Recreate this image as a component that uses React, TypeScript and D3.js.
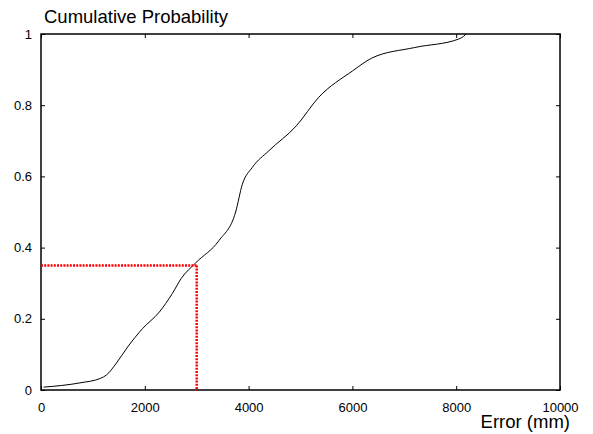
import React, { useEffect, useRef } from 'react';
import * as d3 from 'd3';

// CDF of the error
const errorMm = [50, 750, 1150, 1260, 1450, 1670, 1960, 2280, 2530, 2700, 2980, 3430, 3750, 3880, 4070, 4390, 4920, 5350, 6000, 6370, 7200, 8050, 8170, 8190];
const cumProb = [0.008, 0.02, 0.033, 0.042, 0.075, 0.121, 0.173, 0.219, 0.271, 0.313, 0.357, 0.42, 0.5, 0.578, 0.625, 0.672, 0.742, 0.822, 0.896, 0.932, 0.962, 0.986, 0.997, 1.0];

const xTicks = [0, 2000, 4000, 6000, 8000, 10000];
const yTicks = [0, 0.2, 0.4, 0.6, 0.8, 1];

// marker for the 3000 mm / 0.35 reading
const markX = 3000;
const markP = 0.35;

const App: React.FC = () => {
  const svgRef = useRef<SVGSVGElement>(null);

  useEffect(() => {
    if (!svgRef.current) return;
    const svg = d3.select(svgRef.current);
    svg.selectAll('*').remove();

    const margin = { top: 34, right: 33, bottom: 44, left: 41 };
    const W = 593, H = 434;
    const width = W - margin.left - margin.right;
    const height = H - margin.top - margin.bottom;
    const font = '"Liberation Sans", Arial, sans-serif';

    const g = svg.append('g').attr('transform', `translate(${margin.left},${margin.top})`);

    const x = d3.scaleLinear().domain([0, 10000]).range([0, width]);
    const y = d3.scaleLinear().domain([0, 1]).range([height, 0]);

    const styleAxis = (sel: d3.Selection<SVGGElement, unknown, null, undefined>) => {
      sel.select('.domain').remove();
      sel.selectAll('line').attr('stroke', '#000').attr('stroke-width', 1);
      sel.selectAll('text').style('font-family', font).style('font-size', '13px').attr('fill', '#000');
    };

    // bottom axis with labels
    g.append('g')
      .attr('transform', `translate(0,${height})`)
      .call(d3.axisBottom(x).tickValues(xTicks).tickSizeInner(-4).tickSizeOuter(0).tickPadding(13).tickFormat(d => `${d}`))
      .call(styleAxis);

    // left axis with labels
    g.append('g')
      .call(d3.axisLeft(y).tickValues(yTicks).tickSizeInner(-4).tickSizeOuter(0).tickPadding(9).tickFormat(d => `${d}`))
      .call(styleAxis);

    // mirrored ticks
    g.append('g')
      .call(d3.axisTop(x).tickValues(xTicks).tickSizeInner(-4).tickSizeOuter(0).tickFormat(() => ''))
      .call(styleAxis);
    g.append('g')
      .attr('transform', `translate(${width},0)`)
      .call(d3.axisRight(y).tickValues(yTicks).tickSizeInner(-4).tickSizeOuter(0).tickFormat(() => ''))
      .call(styleAxis);

    // frame
    g.append('rect')
      .attr('width', width)
      .attr('height', height)
      .attr('fill', 'none')
      .attr('stroke', '#000')
      .attr('stroke-width', 1.5);

    // the curve
    const pts = errorMm.map((e, i) => [e, cumProb[i]] as [number, number]);
    const line = d3.line<[number, number]>()
      .x(d => x(d[0]))
      .y(d => y(d[1]))
      .curve(d3.curveMonotoneX);

    g.append('path')
      .datum(pts)
      .attr('d', line)
      .attr('fill', 'none')
      .attr('stroke', '#000')
      .attr('stroke-width', 1);

    // red dotted guide lines
    const dotted = (x1: number, y1: number, x2: number, y2: number) =>
      g.append('line')
        .attr('x1', x1).attr('y1', y1)
        .attr('x2', x2).attr('y2', y2)
        .attr('stroke', '#ff0000')
        .attr('stroke-width', 2.5)
        .attr('stroke-dasharray', '2,1.2');

    dotted(x(0), y(markP), x(markX), y(markP));
    dotted(x(markX), y(markP), x(markX), y(0) + 1);

    // titles
    svg.append('text')
      .attr('x', 44)
      .attr('y', 23)
      .style('font-family', font)
      .style('font-size', '18.5px')
      .attr('fill', '#000')
      .text('Cumulative Probability');

    svg.append('text')
      .attr('x', 570)
      .attr('y', 428)
      .style('text-anchor', 'end')
      .style('font-family', font)
      .style('font-size', '18.5px')
      .attr('fill', '#000')
      .text('Error (mm)');
  }, []);

  return (
    <svg
      ref={svgRef}
      width={593}
      height={434}
      style={{ position: 'absolute', left: 0, top: 0, background: '#fff' }}
    />
  );
};

export default App;
